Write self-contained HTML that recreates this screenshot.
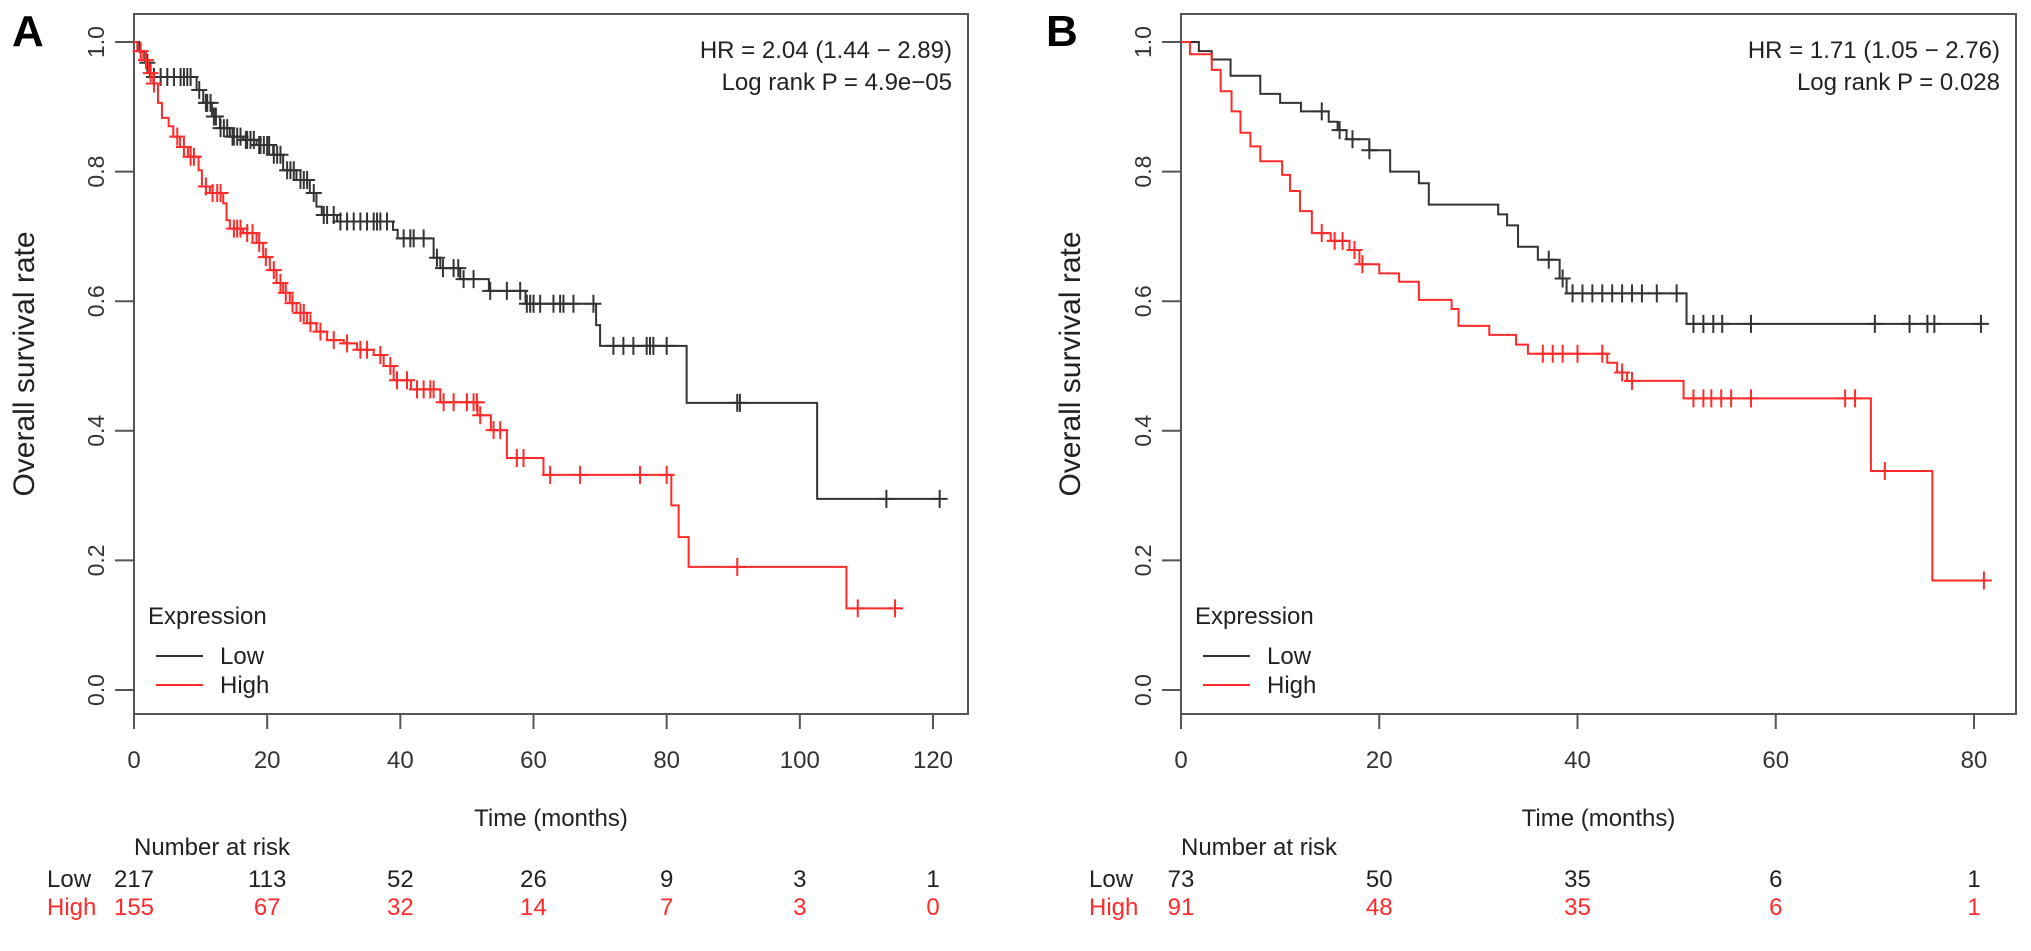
<!DOCTYPE html>
<html><head><meta charset="utf-8">
<style>
html,body{margin:0;padding:0;background:#fff;}
svg{display:block;font-family:"Liberation Sans",Arial,sans-serif;}
</style></head>
<body>
<svg id="fig" width="2031" height="951" viewBox="0 0 2031 951" xmlns="http://www.w3.org/2000/svg"></svg>
<script>
// ---- Panel A data ----
const aLowTimes = [0,0.8,1.7,2.4,9.4,10.4,11.7,12.9,14.4,16.4,18.4,20.9,22.4,24.4,26.4,27.4,28.2,30.5,38.9,39.6,45,46,49,53.3,58.8,69.4,70,83,102.6];
const aLowSurv  = [1,0.985,0.968,0.946,0.926,0.906,0.885,0.867,0.854,0.849,0.841,0.826,0.802,0.787,0.767,0.746,0.733,0.723,0.71,0.697,0.667,0.651,0.634,0.616,0.596,0.563,0.531,0.443,0.295];
const aLowEnd = 121;
const aLowCensor = [2,3,4,5,6,7,7.5,8,8.5,9.8,10.8,11,11.5,12,12.3,13,13.5,14,14.8,15,15.5,16,16.8,17,17.5,18,18.8,19,19.5,20,20.3,21,21.5,22,23,23.5,24,25,25.5,26,27,28.5,29,30,31,32,33,34,35,36,36.5,37,38,40.5,41.5,42,43.5,45.5,46.4,48,48.7,49.5,51,53.5,56,58,59,59.5,60,61,63,64,64.5,66,69,72,73.5,75,77,77.5,78,80,90.6,91,113,121];
const aHighTimes = [0,0.5,1.4,2.2,2.9,3.6,4.2,5.2,5.9,6.9,8.1,9.7,10.2,11.4,13.4,13.9,14.4,16.4,18.4,19.4,20.4,21.4,22.4,23.4,24.4,26,27.4,29,31.5,33.5,36,37.5,39,41.6,46,51.6,53.6,56,61.5,80.7,81.8,83.3,107];
const aHighSurv  = [1,0.986,0.972,0.952,0.936,0.906,0.883,0.87,0.854,0.838,0.823,0.802,0.777,0.767,0.751,0.725,0.712,0.705,0.69,0.668,0.648,0.628,0.613,0.597,0.582,0.566,0.553,0.54,0.535,0.525,0.517,0.5,0.478,0.464,0.444,0.424,0.401,0.358,0.332,0.285,0.236,0.19,0.126];
const aHighEnd = 115;
const aHighCensor = [1,1.8,2.5,3,6.5,7.5,8.5,9,10.8,11.8,12.5,13,15,15.5,16,17,17.8,18.8,19.8,21,22,22.8,23.8,25,25.5,26.5,28,30,32,34,35,37,38.5,39.5,41,42.5,43.5,44.5,45,46.5,48,50,51,51.5,52,54,55,57.5,58.5,62.5,67,76,80,90.6,108.7,114.3];
const aXTicks = [0,20,40,60,80,100,120];
const aRiskLow  = [217,113,52,26,9,3,1];
const aRiskHigh = [155,67,32,14,7,3,0];
// ---- Panel B data ----
const bLowTimes = [0,1.8,3.1,5,8,10,12.1,14.9,15.8,16.7,19,21.1,24,25,32,32.9,34,36,38.2,38.9,51];
const bLowSurv  = [1,0.986,0.973,0.948,0.92,0.906,0.893,0.877,0.864,0.85,0.833,0.8,0.782,0.749,0.734,0.717,0.684,0.664,0.635,0.612,0.565];
const bLowEnd = 81;
const bLowCensor = [14.2,16,17.3,19,37.1,38.5,39.5,40.5,41.5,42.5,43.5,44.5,45.5,46.5,48,50,51.7,52.7,53.7,54.6,57.5,70,73.5,75.3,76,80.7];
const bHighTimes = [0,0.9,3.1,4,5.1,6,7,8,10.2,11,12,13.2,15.1,17,18,20,22,24,27.3,28,31.1,33.8,35,43,44,45,50.7,69.6,75.8];
const bHighSurv  = [1,0.981,0.957,0.924,0.893,0.86,0.839,0.816,0.795,0.77,0.739,0.705,0.693,0.679,0.657,0.643,0.63,0.602,0.588,0.562,0.548,0.533,0.519,0.505,0.49,0.477,0.45,0.338,0.169];
const bHighEnd = 81;
const bHighCensor = [14.2,15.5,16.3,17.5,18.3,36.5,37.5,38.5,40,42.5,44.5,45.5,51.7,52.7,53.5,54.5,55.5,57.5,67,68,71,81];
const bXTicks = [0,20,40,60,80];
const bRiskLow  = [73,50,35,6,1];
const bRiskHigh = [91,48,35,6,1];
const yTicks = [0,0.2,0.4,0.6,0.8,1.0];

const NS = "http://www.w3.org/2000/svg";
const svg = document.getElementById('fig');
function mk(tag, attrs, parent, text){
  const e = document.createElementNS(NS, tag);
  for (const k in attrs) e.setAttribute(k, attrs[k]);
  if (text !== undefined) e.textContent = text;
  (parent || svg).appendChild(e);
  return e;
}
const BLACK = "#333", RED = "#ff2a2a", AXIS = "#555";

function panel(cfg){
  const g = mk('g', {});
  
  
  const x = t => cfg.x0 + (t - 0) * (cfg.x1 - cfg.x0) / cfg.tmax;
  const y = v => 690 - v * 648;
  // box
  const box = mk('rect', {x:cfg.boxL, y:14, width:cfg.boxR-cfg.boxL, height:700, fill:'none', stroke:AXIS, 'stroke-width':2}, g);
  
  
  // y axis ticks
  yTicks.forEach(v => {
    const tk = mk('line', {x1:cfg.boxL-19, x2:cfg.boxL, y1:y(v), y2:y(v), stroke:AXIS, 'stroke-width':2}, g);
    
    
    const lb = mk('text', {x:cfg.boxL-38, y:y(v), 'font-size':23, fill:'#333', 'text-anchor':'middle', 'dominant-baseline':'central', transform:`rotate(-90 ${cfg.boxL-38} ${y(v)})`}, g, v.toFixed(1));
    
    
  });
  // x axis ticks
  cfg.xticks.forEach((t,i) => {
    const tk = mk('line', {x1:x(t), x2:x(t), y1:714, y2:729, stroke:AXIS, 'stroke-width':2}, g);
    
    
    const lb = mk('text', {x:x(t), y:768, 'font-size':24, fill:'#333', 'text-anchor':'middle'}, g, String(t));
    
    
    const rl = mk('text', {x:x(t), y:887, 'font-size':24, fill:'#222', 'text-anchor':'middle'}, g, String(cfg.riskLow[i]));
    
    
    const rh = mk('text', {x:x(t), y:915, 'font-size':24, fill:RED, 'text-anchor':'middle'}, g, String(cfg.riskHigh[i]));
    
    
  });
  // titles
  const yt = mk('text', {x:cfg.ytX, y:364, 'font-size':30, fill:'#222', 'text-anchor':'middle', transform:`rotate(-90 ${cfg.ytX} 364)`}, g, 'Overall survival rate');
  
  
  const xt = mk('text', {x:(cfg.boxL+cfg.boxR)/2, y:826, 'font-size':24, fill:'#222', 'text-anchor':'middle'}, g, 'Time (months)');
  
  
  const nr = mk('text', {x:cfg.boxL, y:855, 'font-size':24, fill:'#222'}, g, 'Number at risk');
  
  
  const lowL = mk('text', {x:cfg.riskLabelX, y:887, 'font-size':24, fill:'#222'}, g, 'Low');
  
  
  const highL = mk('text', {x:cfg.riskLabelX, y:915, 'font-size':24, fill:RED}, g, 'High');
  
  
  // panel letter
  const pl = mk('text', {x:cfg.letterX, y:46, 'font-size':44, 'font-weight':'bold', fill:'#000'}, g, cfg.letter);
  
  
  // stats
  const hr = mk('text', {x:cfg.boxR-16, y:58, 'font-size':24, fill:'#222', 'text-anchor':'end'}, g, cfg.hr);
  
  
  const lp = mk('text', {x:cfg.boxR-16, y:90, 'font-size':24, fill:'#222', 'text-anchor':'end'}, g, cfg.p);
  
  
  // legend
  const lt = mk('text', {x:cfg.boxL+14, y:624, 'font-size':24, fill:'#222'}, g, 'Expression');
  
  
  [['Low',BLACK,656],['High',RED,685]].forEach(([name,col,ly]) => {
    const ll = mk('line', {x1:cfg.boxL+22, x2:cfg.boxL+69, y1:ly, y2:ly, stroke:col, 'stroke-width':2}, g);
    
    
    const lx = mk('text', {x:cfg.boxL+86, y:ly+8, 'font-size':24, fill:'#222'}, g, name);
    
    
  });
  // curves
  cfg.series.forEach(s => {
    let d = `M${x(s.times[0])},${y(s.surv[0])}`;
    for (let i = 1; i < s.times.length; i++){
      d += ` H${x(s.times[i])} V${y(s.surv[i])}`;
    }
    d += ` H${x(s.end)}`;
    const p = mk('path', {d:d, fill:'none', stroke:s.color, 'stroke-width':2}, g);
    
    
    const survAt = t => { let v = s.surv[0]; for (let i=0;i<s.times.length;i++){ if (s.times[i] <= t) v = s.surv[i]; } return v; };
    s.censor.forEach(t => {
      const cx = x(t), cy = y(survAt(t));
      const c = mk('path', {d:`M${cx},${cy-9} V${cy+9} M${cx-8},${cy} H${cx+8}`, stroke:s.color, 'stroke-width':2, fill:'none'}, g);
      
      
    });
  });
}

panel({id:'a', letter:'A', letterX:12, boxL:134, boxR:968, x0:134, x1:933, tmax:120, ytX:34, riskLabelX:47,
  xticks:aXTicks, riskLow:aRiskLow, riskHigh:aRiskHigh,
  hr:'HR = 2.04 (1.44 \u2212 2.89)', p:'Log rank P = 4.9e\u221205',
  series:[
    {name:'low', color:BLACK, times:aLowTimes, surv:aLowSurv, end:aLowEnd, censor:aLowCensor},
    {name:'high', color:RED, times:aHighTimes, surv:aHighSurv, end:aHighEnd, censor:aHighCensor}
  ]});
panel({id:'b', letter:'B', letterX:1046, boxL:1181, boxR:2016, x0:1181, x1:1974, tmax:80, ytX:1080, riskLabelX:1089,
  xticks:bXTicks, riskLow:bRiskLow, riskHigh:bRiskHigh,
  hr:'HR = 1.71 (1.05 \u2212 2.76)', p:'Log rank P = 0.028',
  series:[
    {name:'low', color:BLACK, times:bLowTimes, surv:bLowSurv, end:bLowEnd, censor:bLowCensor},
    {name:'high', color:RED, times:bHighTimes, surv:bHighSurv, end:bHighEnd, censor:bHighCensor}
  ]});
</script>
</body></html>
